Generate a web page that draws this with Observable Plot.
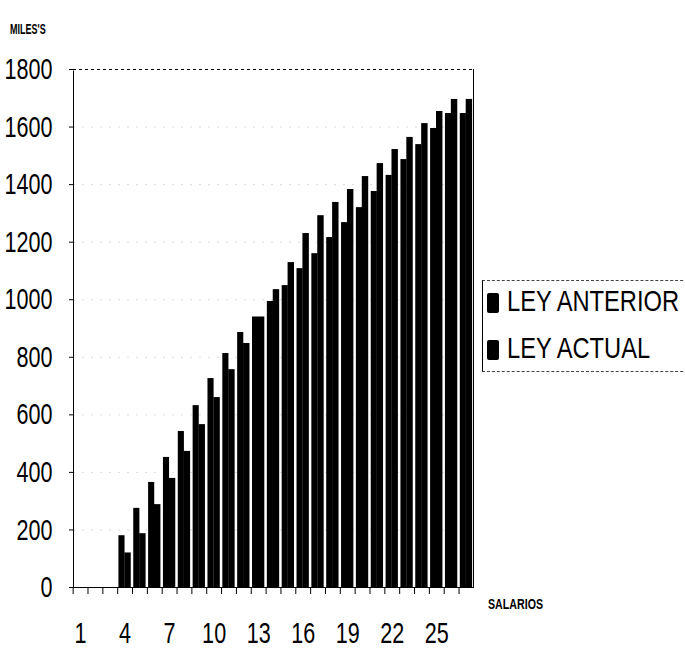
<!DOCTYPE html>
<html>
<head>
<meta charset="utf-8">
<script src="https://cdn.jsdelivr.net/npm/d3@7"></script>
<script src="https://cdn.jsdelivr.net/npm/@observablehq/plot@0.6"></script>
<style>
  html, body { margin: 0; padding: 0; background: #fff; }
  #wrap { position: relative; width: 685px; height: 649px; font-family: "Liberation Sans", Arial, sans-serif; overflow: hidden; }
  #wrap svg { position: absolute; left: 0; top: 0; }
  .lbl { position: absolute; font-weight: bold; color: #000; white-space: nowrap; line-height: 1; transform-origin: left top; }
  #legend { position: absolute; left: 482px; top: 280px; width: 210px; height: 90px;
            border-left: 1px solid #000; border-top: 1px dashed #444; border-bottom: 1px dashed #444; }
  .item { position: absolute; left: 24px; font-size: 30px; line-height: 30px; color: #000; white-space: nowrap;
          transform: scaleX(0.79); transform-origin: left top; }
  .sw { position: absolute; left: 4px; width: 12px; height: 20px; background: #000; border-radius: 2px; }
</style>
</head>
<body>
<div id="wrap">
  <div class="lbl" style="left:10px; top:21px; font-size:15px; transform: scaleX(0.6);">MILES'S</div>
  <div class="lbl" style="left:488px; top:596px; font-size:15px; transform: scaleX(0.71);">SALARIOS</div>
  <div id="legend">
    <div class="sw" style="top:12px;"></div>
    <div class="item" style="top:5px;">LEY ANTERIOR</div>
    <div class="sw" style="top:59px;"></div>
    <div class="item" style="top:52px;">LEY ACTUAL</div>
  </div>
</div>
<script>
const salarios = [1,2,3,4,5,6,7,8,9,10,11,12,13,14,15,16,17,18,19,20,21,22,23,24,25,26,27];
const leyAnterior = [null,null,null,180,275,365,452,542,632,726,813,886,940,994,1049,1108,1160,1216,1268,1320,1376,1432,1487,1539,1595,1647,1647];
const leyActual   = [null,null,null,120,187,288,379,473,566,660,757,848,940,1035,1129,1230,1292,1338,1383,1428,1473,1522,1564,1612,1654,1696,1696];
const yTicks = [0,200,400,600,800,1000,1200,1400,1600,1800];
const xTickLabels = [1,4,7,10,13,16,19,22,25];

const anterior = salarios.map((s,i) => ({s, v: leyAnterior[i]})).filter(d => d.v != null);
const actual = salarios.map((s,i) => ({s, v: leyActual[i]})).filter(d => d.v != null);

const chart = Plot.plot({
  width: 685,
  height: 649,
  marginLeft: 73,
  marginRight: 212,
  marginTop: 69,
  marginBottom: 62,
  style: {fontFamily: '"Liberation Sans", Arial, sans-serif', color: "#000", background: "transparent"},
  x: {type: "band", domain: salarios, paddingInner: 0.17, paddingOuter: 0.06, round: false},
  y: {domain: [0, 1800]},
  marks: [
    Plot.ruleY(yTicks.slice(1, -1), {stroke: "#ccc", strokeWidth: 0.7, strokeDasharray: "2,7"}),
    Plot.barY(anterior, {x: "s", y: "v", fill: "#000", insetRight: 6.2}),
    Plot.barY(actual, {x: "s", y: "v", fill: "#000", insetLeft: 5.9}),
    Plot.frame({stroke: "#000", strokeWidth: 1}),
    Plot.ruleY([1800], {stroke: "#fff", strokeWidth: 2}),
    Plot.ruleY([1800], {stroke: "#000", strokeDasharray: "3,3"}),
    Plot.axisY({ticks: yTicks, tickSize: 4, tickPadding: 17, fontSize: 30, tickFormat: d => `${d}`, label: null}),
    Plot.axisX({tickSize: 7, tickFormat: () => "", dx: -7.4, label: null}),
    Plot.axisX({ticks: xTickLabels, tickSize: 0, tickPadding: 34, fontSize: 30, tickFormat: d => `${d}`, label: null})
  ]
});

// condense the tick labels (narrow typeface look) about each label's own anchor
chart.querySelectorAll("text").forEach(t => {
  const tr = t.getAttribute("transform");
  if (tr && tr.includes("translate")) {
    t.setAttribute("transform", tr + " scale(0.72,1)");
  } else {
    const x = +(t.getAttribute("x") || 0), y = +(t.getAttribute("y") || 0);
    t.setAttribute("x", 0); t.setAttribute("y", 0);
    t.setAttribute("transform", `translate(${x},${y}) scale(0.72,1)`);
  }
});
document.getElementById("wrap").prepend(chart);
</script>
</body>
</html>
